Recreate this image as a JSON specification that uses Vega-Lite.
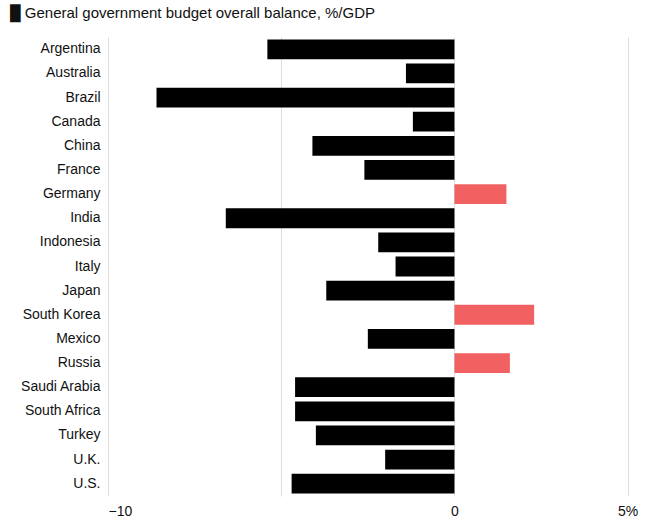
{
  "$schema": "https://vega.github.io/schema/vega-lite/v6.json",
  "width": 665,
  "height": 528,
  "autosize": {"type": "fit", "contains": "padding"},
  "padding": {"left": 10, "right": 20, "top": 6, "bottom": 10},
  "background": "white",
  "title": {
    "text": "█  General government budget overall balance, %/GDP",
    "anchor": "start",
    "frame": "group",
    "dx": -98,
    "font": "Liberation Sans",
    "fontSize": 15,
    "fontWeight": "normal",
    "color": "#111",
    "offset": 16
  },
  "data": {
    "values": [
      {"country": "Argentina", "value": -5.4},
      {"country": "Australia", "value": -1.4},
      {"country": "Brazil", "value": -8.6},
      {"country": "Canada", "value": -1.2},
      {"country": "China", "value": -4.1},
      {"country": "France", "value": -2.6},
      {"country": "Germany", "value": 1.5},
      {"country": "India", "value": -6.6},
      {"country": "Indonesia", "value": -2.2},
      {"country": "Italy", "value": -1.7},
      {"country": "Japan", "value": -3.7},
      {"country": "South Korea", "value": 2.3},
      {"country": "Mexico", "value": -2.5},
      {"country": "Russia", "value": 1.6},
      {"country": "Saudi Arabia", "value": -4.6},
      {"country": "South Africa", "value": -4.6},
      {"country": "Turkey", "value": -4.0},
      {"country": "U.K.", "value": -2.0},
      {"country": "U.S.", "value": -4.7}
    ]
  },
  "mark": {"type": "bar"},
  "encoding": {
    "y": {
      "field": "country",
      "type": "nominal",
      "sort": null,
      "scale": {"paddingInner": 0.18, "paddingOuter": 0.1},
      "axis": {"title": null, "ticks": false, "domain": false, "labelFontSize": 14, "labelPadding": 8, "labelColor": "#111", "labelFont": "Liberation Sans"}
    },
    "x": {
      "field": "value",
      "type": "quantitative",
      "scale": {"domain": [-10, 5.5], "nice": false},
      "axis": {
        "title": null,
        "values": [-10, -5, 0, 5],
        "labelExpr": "datum.value == -5 ? '' : datum.value == 5 ? '5%' : datum.label",
        "ticks": false,
        "domain": false,
        "labelFontSize": 14,
        "labelColor": "#111",
        "labelFont": "Liberation Sans",
        "labelPadding": 8,
        "gridColor": "#ddd"
      }
    },
    "color": {
      "condition": {"test": "datum.value > 0", "value": "#f26161"},
      "value": "black"
    }
  },
  "config": {"view": {"stroke": null}}
}
